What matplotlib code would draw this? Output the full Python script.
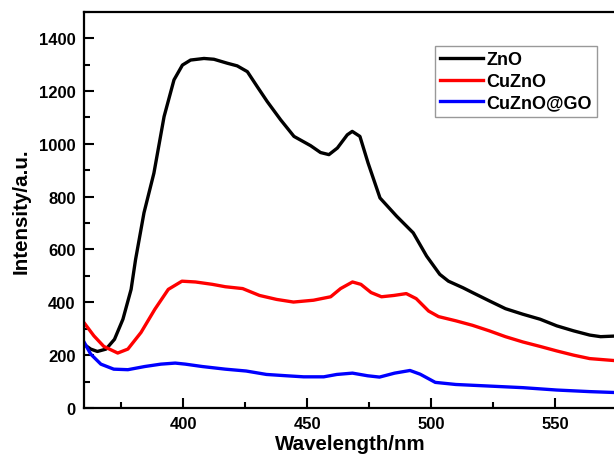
import numpy as np
import matplotlib
matplotlib.use("Agg")
import matplotlib.pyplot as plt
from matplotlib.ticker import MultipleLocator

plt.rcParams['font.family'] = ['Liberation Sans', 'DejaVu Sans']
plt.rcParams['font.weight'] = 'bold'

# ZnO
zno_x = [360, 362.7, 365.4, 368.9, 372.3, 375.7, 379, 380.8, 384.2, 388.2, 392.3, 396.3,
         399.7, 403, 408.4, 412.4, 417.8, 421.8, 425.9, 429.9, 433.9, 439.3, 444.7, 451.4,
         455.4, 458.8, 462.2, 466.2, 468.2, 471.3, 474.6, 479.4, 486.1, 492.8, 498.2, 503.5,
         507, 512.9, 516.7, 523.6, 530, 537, 544, 550.7, 557.5, 564, 568.4, 576]
zno_y = [241, 223, 214, 223, 260, 336, 449, 562, 739, 889, 1103, 1242,
         1298, 1317, 1323, 1320, 1305, 1295, 1273, 1216, 1160, 1091, 1028, 993,
         967, 959, 984, 1034, 1047, 1028, 927, 795, 726, 663, 575, 506,
         480, 455, 437, 405, 376, 355, 336, 311, 292, 276, 270, 273]

# CuZnO
cu_x = [360, 364, 368, 373.6, 377.7, 383, 388.6, 394, 399.5, 405, 411.8, 417, 424,
        430.8, 437.7, 444.5, 452.6, 459.5, 463.5, 468.3, 471.7, 475.8, 480, 485, 490,
        494, 499, 503, 510, 516.7, 523.5, 530, 537, 544, 550.7, 557.5, 564, 576]
cu_y = [323, 273, 233, 208, 223, 286, 374, 449, 480, 477, 468, 459, 452,
        426, 411, 401, 408, 421, 452, 477, 468, 437, 421, 426, 433,
        414, 367, 346, 330, 313, 292, 270, 250, 233, 216, 200, 187, 178]

# CuZnO@GO
go_x = [360, 362.7, 366.8, 372, 377.7, 384.5, 391, 396.8, 400.9, 407.7, 417, 425.4,
        433.6, 441.7, 448.6, 456.7, 462, 468.3, 474.4, 479.2, 485.3, 491.5, 495.6,
        501.7, 510, 523.5, 537, 550.7, 564, 576]
go_y = [250, 204, 166, 147, 145, 157, 166, 170, 166, 157, 147, 140,
        127, 122, 118, 118, 127, 132, 122, 117, 132, 142, 128,
        97, 89, 83, 77, 68, 62, 58]

fig = plt.figure(figsize=(6.14, 4.6), dpi=100)
ax = fig.add_axes([84/614, 51/460, 533/614, 396.3/460])

lw = 2.4
ax.plot(zno_x, zno_y, color='black', lw=lw, label='ZnO', solid_joinstyle='round')
ax.plot(cu_x, cu_y, color='#ff0000', lw=lw, label='CuZnO', solid_joinstyle='round')
ax.plot(go_x, go_y, color='#0000ff', lw=lw, label='CuZnO@GO', solid_joinstyle='round')

ax.set_xlim(360, 575)
ax.set_ylim(0, 1500)
ax.xaxis.set_major_locator(MultipleLocator(50))
ax.xaxis.set_minor_locator(MultipleLocator(25))
ax.yaxis.set_major_locator(MultipleLocator(200))
ax.yaxis.set_minor_locator(MultipleLocator(100))
ax.tick_params(which='both', direction='in', width=1.5, labelsize=12, pad=6)
ax.tick_params(which='major', length=7)
ax.tick_params(which='minor', length=4)
for lab in ax.get_xticklabels() + ax.get_yticklabels():
    lab.set_fontweight('bold')
for s in ax.spines.values():
    s.set_linewidth(1.6)

ax.set_xlabel('Wavelength/nm', fontsize=14.8, fontweight='bold', labelpad=2)
ax.set_ylabel('Intensity/a.u.', fontsize=14.8, fontweight='bold', labelpad=6)

leg = ax.legend(loc='upper right', bbox_to_anchor=((597-84)/533, (409-47)/396.3),
                borderaxespad=0, fancybox=False, fontsize=13, handlelength=2.4,
                handletextpad=0.15, labelspacing=0.25, borderpad=0.3)
leg.get_frame().set_edgecolor('#808080')
leg.get_frame().set_linewidth(1.0)
for t in leg.get_texts():
    t.set_fontweight('bold')

fig.savefig('out.png', dpi=100)
